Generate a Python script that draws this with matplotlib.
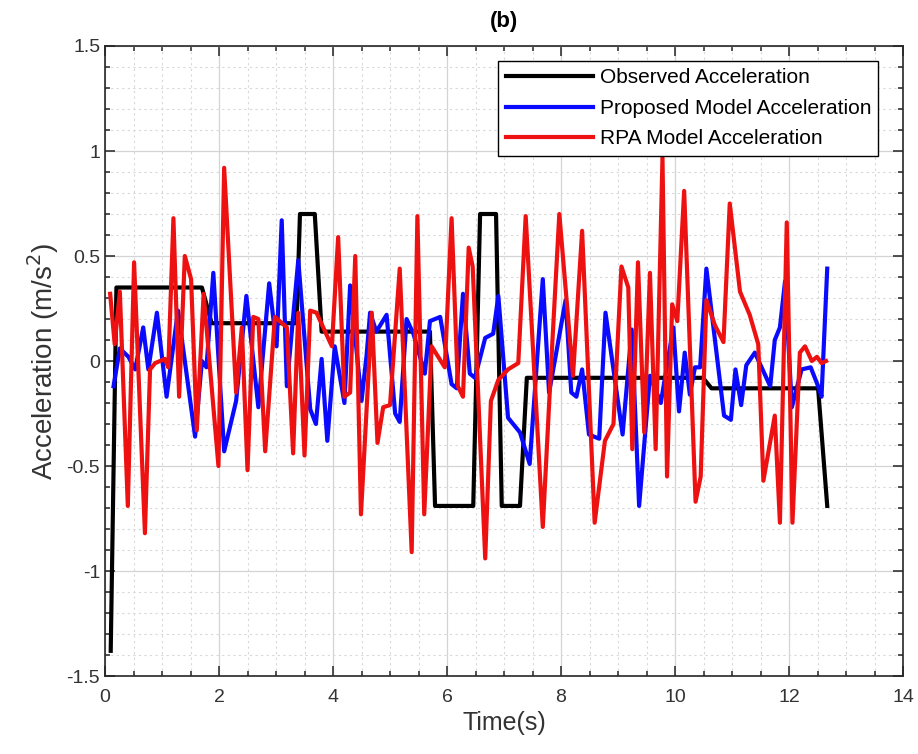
import matplotlib
matplotlib.use("Agg")
from matplotlib import pyplot as plt
from matplotlib.ticker import MultipleLocator

plt.rcParams['font.family'] = ['Liberation Sans', 'DejaVu Sans']

# observed acceleration (step profile, corner points)
obs_t = [0.1, 0.2, 1.70, 1.87, 3.36, 3.42, 3.68, 3.80, 5.70, 5.79, 6.46, 6.58,
         6.86, 6.96, 7.28, 7.40, 10.49, 10.64, 12.51, 12.67]
obs_a = [-1.38, 0.35, 0.35, 0.18, 0.18, 0.70, 0.70, 0.14, 0.14, -0.69, -0.69, 0.70,
         0.70, -0.69, -0.69, -0.08, -0.08, -0.13, -0.13, -0.69]

# proposed model
prop_t = [0.15, 0.26, 0.41, 0.53, 0.67, 0.76, 0.91, 1.08, 1.28, 1.58, 1.70, 1.78,
          1.90, 2.09, 2.30, 2.48, 2.69, 2.88, 3.01, 3.10, 3.19, 3.39, 3.60, 3.70,
          3.80, 3.90, 4.03, 4.20, 4.30, 4.50, 4.59, 4.65, 4.76, 4.94, 5.09, 5.17,
          5.29, 5.41, 5.61, 5.70, 5.88, 6.08, 6.17, 6.28, 6.40, 6.49, 6.67, 6.81,
          6.90, 7.07, 7.28, 7.45, 7.68, 7.79, 7.89, 8.08, 8.18, 8.27, 8.37, 8.49,
          8.67, 8.78, 9.08, 9.24, 9.37, 9.56, 9.75, 9.97, 10.07, 10.17, 10.26, 10.35,
          10.44, 10.55, 10.86, 10.98, 11.06, 11.16, 11.25, 11.40, 11.67, 11.75, 11.84, 11.93,
          12.05, 12.22, 12.38, 12.51, 12.57, 12.67]
prop_a = [-0.12, 0.06, 0.02, -0.04, 0.16, -0.04, 0.23, -0.17, 0.24, -0.36, 0.00, -0.03,
          0.42, -0.43, -0.19, 0.31, -0.22, 0.37, 0.07, 0.67, -0.12, 0.48, -0.23, -0.30,
          0.01, -0.38, 0.07, -0.20, 0.36, -0.19, 0.03, 0.23, 0.14, 0.22, -0.25, -0.29,
          0.20, 0.13, -0.06, 0.19, 0.21, -0.11, -0.13, 0.32, -0.06, -0.08, 0.11, 0.13,
          0.31, -0.27, -0.34, -0.49, 0.39, -0.15, 0.00, 0.29, -0.15, -0.17, -0.04, -0.35,
          -0.37, 0.23, -0.35, 0.15, -0.69, -0.07, -0.20, 0.16, -0.24, 0.04, -0.16, -0.03,
          -0.03, 0.44, -0.26, -0.28, -0.04, -0.21, -0.02, 0.04, -0.12, 0.10, 0.16, 0.38,
          -0.22, -0.04, -0.03, -0.12, -0.17, 0.44]

# RPA model
rpa_t = [0.09, 0.17, 0.26, 0.40, 0.51, 0.70, 0.79, 0.88, 1.05, 1.11, 1.20, 1.30,
         1.40, 1.51, 1.61, 1.73, 1.99, 2.09, 2.30, 2.40, 2.50, 2.60, 2.69, 2.81,
         2.98, 3.19, 3.30, 3.39, 3.50, 3.60, 3.71, 3.98, 4.09, 4.20, 4.30, 4.39,
         4.49, 4.68, 4.78, 4.88, 5.00, 5.17, 5.38, 5.48, 5.60, 5.73, 5.96, 6.08,
         6.19, 6.28, 6.38, 6.45, 6.67, 6.77, 6.90, 7.07, 7.25, 7.38, 7.68, 7.83,
         7.97, 8.21, 8.37, 8.59, 8.77, 8.92, 9.06, 9.18, 9.25, 9.35, 9.46, 9.56,
         9.66, 9.78, 9.86, 9.95, 10.04, 10.16, 10.36, 10.45, 10.55, 10.70, 10.85, 10.96,
         11.14, 11.31, 11.46, 11.55, 11.75, 11.84, 11.96, 12.06, 12.19, 12.28, 12.40, 12.49,
         12.57, 12.65]
rpa_a = [0.32, 0.08, 0.33, -0.69, 0.47, -0.82, -0.04, -0.01, 0.01, -0.03, 0.68, -0.17,
         0.50, 0.39, -0.33, 0.32, -0.50, 0.92, -0.15, 0.16, -0.52, 0.21, 0.20, -0.43,
         0.21, 0.16, -0.44, 0.23, -0.45, 0.24, 0.23, 0.07, 0.59, -0.17, -0.15, 0.50,
         -0.73, 0.23, -0.39, -0.22, -0.21, 0.44, -0.91, 0.69, -0.73, 0.07, -0.03, 0.68,
         -0.12, -0.17, 0.54, 0.45, -0.94, -0.19, -0.09, -0.04, -0.01, 0.69, -0.79, 0.00,
         0.70, -0.07, 0.62, -0.77, -0.38, -0.30, 0.45, 0.35, -0.42, 0.47, -0.34, 0.42,
         -0.42, 0.97, -0.55, 0.27, 0.19, 0.81, -0.67, -0.55, 0.29, 0.17, 0.09, 0.75,
         0.33, 0.22, 0.08, -0.57, -0.26, -0.77, 0.66, -0.77, 0.04, 0.07, 0.00, 0.02,
         -0.01, 0.00]

fig = plt.figure(figsize=(9.18, 7.54), dpi=100)
ax = fig.add_axes([0.1144, 0.1034, 0.8693, 0.8356])

lw = 3.0
ax.plot(obs_t, obs_a, color='black', lw=lw, label='Observed Acceleration')
ax.plot(prop_t, prop_a, color='#0a0aff', lw=lw, label='Proposed Model Acceleration')
ax.plot(rpa_t, rpa_a, color='#ee1111', lw=lw, label='RPA Model Acceleration')

ax.set_xlim(0, 14)
ax.set_ylim(-1.5, 1.5)
ax.xaxis.set_major_locator(MultipleLocator(2))
ax.xaxis.set_minor_locator(MultipleLocator(0.5))
ax.yaxis.set_major_locator(MultipleLocator(0.5))
ax.yaxis.set_minor_locator(MultipleLocator(0.1))
ax.set_yticks([-1.5, -1, -0.5, 0, 0.5, 1, 1.5])
ax.set_yticklabels(['-1.5', '-1', '-0.5', '0', '0.5', '1', '1.5'])

ax.grid(True, which='major', color='#d4d4d4', lw=0.9)
ax.grid(True, which='minor', color='#d8d8d8', lw=0.8, ls=(0, (2, 3)))
ax.set_axisbelow(True)

ax.tick_params(which='both', direction='in', top=True, right=True, colors='#333333',
               labelsize=14, width=1.2)
ax.tick_params(which='major', length=7)
ax.tick_params(which='minor', length=3.5)
ax.tick_params(axis='x', pad=9)
for s in ax.spines.values():
    s.set_linewidth(1.2)
    s.set_color('#262626')

ax.set_xlabel('Time(s)', fontsize=18, color='#333333', labelpad=4)
ax.set_ylabel('Acceleration (m/s$^2$)', fontsize=20, color='#333333', labelpad=4)
ax.set_title('(b)', fontsize=16, fontweight='bold', pad=14)

leg = ax.legend(loc='upper right', bbox_to_anchor=(0.969, 0.976), fontsize=15,
                fancybox=False, framealpha=1, edgecolor='black', handlelength=4.2,
                borderpad=0.35, labelspacing=0.55, handletextpad=0.3, borderaxespad=0)
leg.get_frame().set_linewidth(1.0)

fig.savefig('out.png', dpi=100)
